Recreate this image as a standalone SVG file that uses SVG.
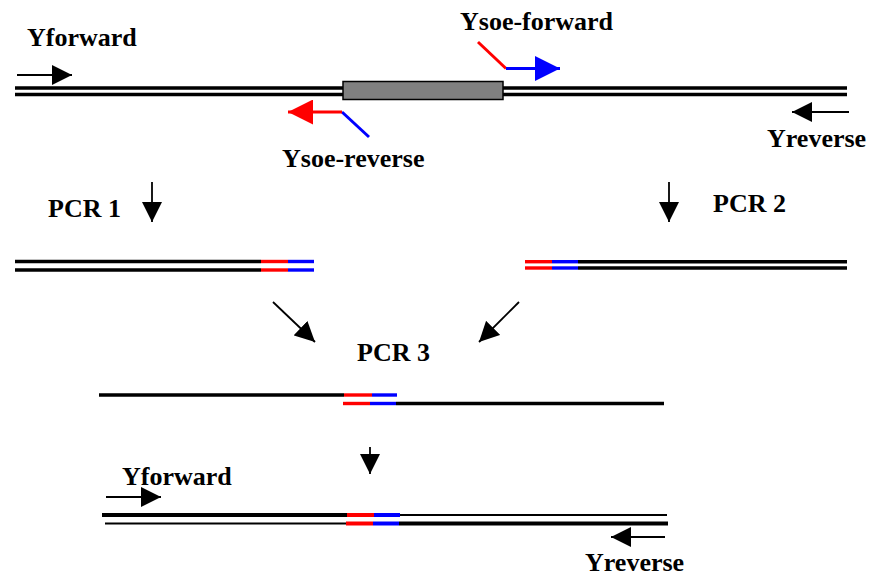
<svg xmlns="http://www.w3.org/2000/svg" width="869" height="576" viewBox="0 0 869 576">
  <style>
    text { font-family: "Liberation Serif", "Times New Roman", serif; font-weight: bold; font-size: 26px; fill: #000; }
    .ds { stroke: #000; stroke-width: 3.4; fill: none; }
    .thick { stroke-width: 4; }
    .thin { stroke-width: 2; }
    .red { stroke: #ff0000; }
    .blue { stroke: #0000ff; }
    .arrow { stroke: #000; stroke-width: 1.8; fill: none; marker-end: url(#head); }
    .tail { stroke-width: 3; fill: none; }
  </style>
  <defs>
    <marker id="head" markerUnits="userSpaceOnUse" viewBox="0 0 20 20" markerWidth="20" markerHeight="20" refX="20" refY="10" orient="auto">
      <path d="M0,0 L20,10 L0,20 Z" fill="#000"/>
    </marker>
    <marker id="headRed" markerUnits="userSpaceOnUse" viewBox="0 0 25 25" markerWidth="25" markerHeight="25" refX="25" refY="12.5" orient="auto">
      <path d="M0,0 L25,12.5 L0,25 Z" fill="#ff0000"/>
    </marker>
    <marker id="headBlue" markerUnits="userSpaceOnUse" viewBox="0 0 25 25" markerWidth="25" markerHeight="25" refX="25" refY="12.5" orient="auto">
      <path d="M0,0 L25,12.5 L0,25 Z" fill="#0000ff"/>
    </marker>
  </defs>

  <!-- template DNA with target gene -->
  <g id="template">
    <line class="ds" x1="15" y1="88" x2="847" y2="88"/>
    <line class="ds" x1="15" y1="94.5" x2="847" y2="94.5"/>
    <rect x="343" y="81.5" width="160" height="18" fill="#808080" stroke="#000" stroke-width="1.5"/>
  </g>

  <!-- outer primers -->
  <g id="yforward-top">
    <text x="27" y="46">Yforward</text>
    <line class="arrow" x1="17" y1="75" x2="72" y2="75"/>
  </g>
  <g id="yreverse-top">
    <text x="767" y="147">Yreverse</text>
    <line class="arrow" x1="849" y1="112" x2="792" y2="112"/>
  </g>

  <!-- overlap primers -->
  <g id="ysoe-forward">
    <text x="460" y="30">Ysoe-forward</text>
    <line class="tail red" x1="478" y1="42" x2="506" y2="68.5"/>
    <line class="tail blue" x1="506" y1="68.5" x2="560" y2="68.5" marker-end="url(#headBlue)"/>
  </g>
  <g id="ysoe-reverse">
    <text x="282" y="167">Ysoe-reverse</text>
    <line class="tail blue" x1="369" y1="137" x2="342" y2="112"/>
    <line class="tail red" x1="342" y1="112" x2="288" y2="112" marker-end="url(#headRed)"/>
  </g>

  <!-- step labels -->
  <g id="pcr1-label"><text x="48" y="217">PCR 1</text></g>
  <g id="pcr2-label"><text x="713" y="212">PCR 2</text></g>
  <g id="pcr3-label"><text x="357" y="361">PCR 3</text></g>

  <!-- PCR 1 product -->
  <g id="pcr1-product">
    <line class="ds" x1="15" y1="261.5" x2="261" y2="261.5"/>
    <line class="ds red" x1="261" y1="261.5" x2="288" y2="261.5"/>
    <line class="ds blue" x1="288" y1="261.5" x2="314" y2="261.5"/>
    <line class="ds" x1="15" y1="270" x2="261" y2="270"/>
    <line class="ds red" x1="261" y1="270" x2="288" y2="270"/>
    <line class="ds blue" x1="288" y1="270" x2="314" y2="270"/>
  </g>

  <!-- PCR 2 product -->
  <g id="pcr2-product">
    <line class="ds red" x1="525" y1="261.7" x2="552" y2="261.7"/>
    <line class="ds blue" x1="552" y1="261.7" x2="578" y2="261.7"/>
    <line class="ds" x1="578" y1="261.7" x2="847" y2="261.7"/>
    <line class="ds red" x1="525" y1="268" x2="552" y2="268"/>
    <line class="ds blue" x1="552" y1="268" x2="578" y2="268"/>
    <line class="ds" x1="578" y1="268" x2="847" y2="268"/>
  </g>

  <!-- annealed overlap strands in PCR 3 -->
  <g id="pcr3-overlap">
    <line class="ds" x1="99" y1="395" x2="344" y2="395"/>
    <line class="ds red" x1="344" y1="395" x2="372" y2="395"/>
    <line class="ds blue" x1="372" y1="395" x2="397" y2="395"/>
    <line class="ds red" x1="343" y1="403.5" x2="370" y2="403.5"/>
    <line class="ds blue" x1="370" y1="403.5" x2="396" y2="403.5"/>
    <line class="ds" x1="396" y1="403.5" x2="664" y2="403.5"/>
  </g>

  <!-- fused product -->
  <g id="fusion-product">
    <line class="ds thick" x1="102" y1="515" x2="347" y2="515"/>
    <line class="ds thick red" x1="347" y1="515" x2="374" y2="515"/>
    <line class="ds thick blue" x1="374" y1="515" x2="400" y2="515"/>
    <line class="ds thin" x1="400" y1="515" x2="667" y2="515"/>
    <line class="ds thin" x1="105" y1="523.5" x2="346" y2="523.5"/>
    <line class="ds thick red" x1="346" y1="523.5" x2="373" y2="523.5"/>
    <line class="ds thick blue" x1="373" y1="523.5" x2="399" y2="523.5"/>
    <line class="ds thick" x1="399" y1="523.5" x2="668" y2="523.5"/>
  </g>
  <g id="yforward-bottom">
    <text x="122" y="485">Yforward</text>
    <line class="arrow" x1="106" y1="497" x2="161" y2="497"/>
  </g>
  <g id="yreverse-bottom">
    <text x="585" y="571">Yreverse</text>
    <line class="arrow" x1="665" y1="537" x2="611" y2="537"/>
  </g>

  <!-- step arrows -->
  <g id="connectors">
    <line class="arrow" x1="152" y1="182" x2="152" y2="222"/>
    <line class="arrow" x1="669" y1="182" x2="669" y2="222"/>
    <line class="arrow" x1="273" y1="302" x2="315" y2="342"/>
    <line class="arrow" x1="519" y1="302" x2="479" y2="342"/>
    <line class="arrow" x1="370" y1="447" x2="370" y2="474"/>
  </g>
</svg>
